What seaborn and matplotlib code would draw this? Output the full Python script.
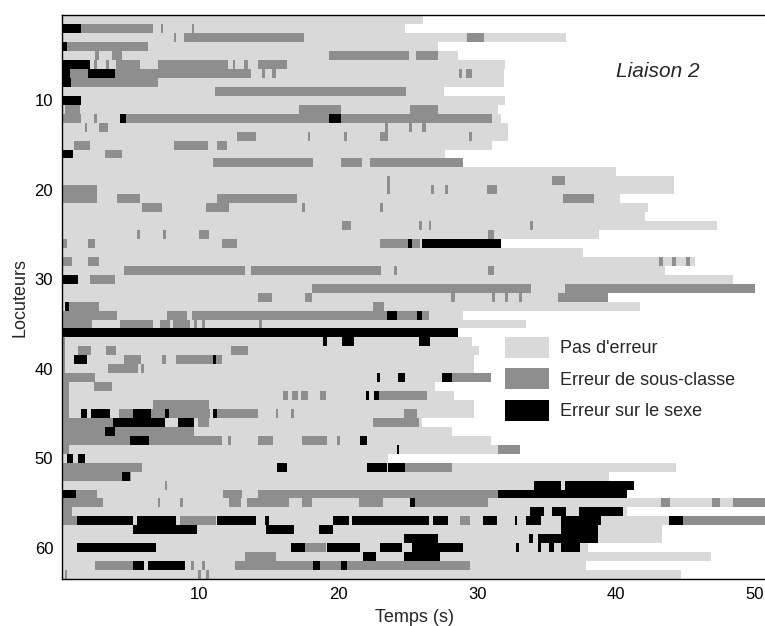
import numpy as np
import matplotlib
matplotlib.use("Agg")
import matplotlib.pyplot as plt
from matplotlib.colors import ListedColormap
from matplotlib.patches import Patch
import seaborn as sns

# ---------------------------------------------------------------------------
# Donnees : duree de chaque locuteur (s) et segments d'erreur (locuteur, debut, fin)
# ---------------------------------------------------------------------------

durees = [
    26.1, 24.8, 36.4, 27.2, 28.6, 32.0, 31.9, 31.9, 27.6, 32.0,
    31.5, 31.7, 32.2, 32.2, 31.1, 27.7, 29.0, 40.0, 44.2, 44.2,
    40.3, 42.3, 42.1, 47.3, 38.8, 31.75, 37.6, 45.7, 43.5, 48.4,
    50.0, 39.4, 41.7, 29.0, 33.5, 28.6, 29.6, 30.1, 29.8, 29.8,
    31.0, 27.0, 28.3, 29.8, 29.8, 26.0, 28.2, 31.0, 33.1, 23.6,
    44.3, 39.5, 41.3, 40.8, 50.7, 40.8, 50.7, 43.3, 43.3, 38.0,
    46.8, 37.8, 44.7,
]

sous_classe = [
    (2, 1.5, 6.7), (2, 7.25, 7.4), (2, 9.45, 9.6),
    (3, 8.2, 8.35), (3, 8.9, 17.5), (3, 29.3, 30.5),
    (4, 0.44, 6.3),
    (5, 2.5, 2.8), (5, 3.7, 4.4), (5, 19.3, 25.1), (5, 25.6, 27.2),
    (6, 2.4, 2.6), (6, 3.3, 3.5), (6, 4.0, 5.7), (6, 7.0, 12.1), (6, 12.4, 12.6),
    (6, 13.2, 13.5), (6, 14.2, 16.3),
    (7, 0.7, 2.0), (7, 3.9, 13.7), (7, 14.5, 14.7), (7, 15.2, 15.5),
    (7, 28.7, 28.9), (7, 29.2, 29.6),
    (8, 0.75, 7.0),
    (9, 11.1, 24.9),
    (11, 0.3, 1.4), (11, 17.2, 20.2), (11, 25.2, 27.2),
    (12, 0.1, 1.5), (12, 2.45, 2.6), (12, 4.7, 19.3), (12, 20.2, 31.1),
    (13, 1.75, 1.9), (13, 2.8, 3.4), (13, 23.4, 23.6), (13, 25.1, 25.3), (13, 26.0, 26.3),
    (14, 12.7, 14.1), (14, 17.8, 18.0), (14, 20.4, 20.6), (14, 23.0, 23.6), (14, 29.4, 29.6),
    (15, 1.0, 2.1), (15, 8.2, 10.6), (15, 11.3, 12.0),
    (16, 3.2, 4.4),
    (17, 11.0, 18.2), (17, 20.2, 21.7), (17, 22.3, 29.0),
    (19, 23.5, 23.7), (19, 35.4, 36.3),
    (20, 0.1, 2.6), (20, 23.5, 23.7), (20, 26.7, 26.9), (20, 27.7, 27.9), (20, 30.7, 31.4),
    (21, 0.1, 2.6), (21, 4.1, 5.7), (21, 11.3, 17.0), (21, 36.2, 38.4),
    (22, 5.9, 7.35), (22, 10.5, 12.15), (22, 17.4, 17.6), (22, 23.0, 23.2),
    (24, 20.3, 20.9), (24, 25.8, 26.0), (24, 26.5, 26.7), (24, 33.8, 34.0),
    (25, 5.5, 5.7), (25, 7.4, 7.6), (25, 10.0, 10.7), (25, 30.8, 31.2),
    (26, 0.2, 0.5), (26, 2.0, 2.5), (26, 11.6, 12.7), (26, 23.0, 25.9),
    (28, 0.2, 0.8), (28, 2.0, 2.8), (28, 43.1, 43.4), (28, 44.0, 44.3), (28, 45.0, 45.3),
    (29, 4.6, 13.3), (29, 13.7, 23.1), (29, 24.0, 24.2), (29, 30.8, 31.2),
    (30, 2.1, 3.9),
    (31, 18.1, 33.9), (31, 36.3, 50.0),
    (32, 14.2, 15.2), (32, 17.6, 18.1), (32, 28.1, 28.4), (32, 31.1, 31.3),
    (32, 32.0, 32.2), (32, 33.0, 33.2), (32, 35.8, 39.4),
    (33, 0.6, 2.8), (33, 22.5, 23.3),
    (34, 0.2, 4.1), (34, 7.7, 9.1), (34, 9.5, 23.5), (34, 24.2, 25.7), (34, 26.0, 26.5),
    (35, 0.2, 2.3), (35, 4.3, 6.7), (35, 7.2, 7.9), (35, 8.1, 9.3), (35, 9.6, 9.8),
    (35, 10.2, 10.4), (35, 14.3, 14.5),
    (37, 0.0, 0.3),
    (38, 0.0, 0.3), (38, 1.3, 2.2), (38, 3.3, 4.0), (38, 12.3, 13.5),
    (39, 0.0, 0.3), (39, 4.6, 5.8), (39, 7.3, 7.6), (39, 8.3, 11.6),
    (40, 0.0, 0.3), (40, 3.4, 5.6), (40, 5.8, 6.0),
    (41, 0.0, 2.5), (41, 28.2, 31.0),
    (42, 0.0, 0.6), (42, 2.4, 3.7),
    (43, 0.0, 0.6), (43, 16.0, 16.4), (43, 16.7, 17.1), (43, 17.3, 17.8),
    (43, 18.7, 19.1), (43, 22.9, 26.4),
    (44, 0.0, 0.6), (44, 6.7, 10.7),
    (45, 0.0, 0.6), (45, 4.2, 5.2), (45, 6.5, 7.5), (45, 7.85, 10.8), (45, 11.3, 14.2),
    (45, 15.5, 15.7), (45, 16.6, 16.8), (45, 24.7, 25.7),
    (46, 0.0, 3.8), (46, 9.9, 10.7), (46, 22.5, 25.8),
    (47, 0.0, 3.2), (47, 3.9, 9.6),
    (48, 0.0, 5.0), (48, 6.4, 11.6), (48, 12.1, 12.3), (48, 14.2, 15.3), (48, 17.4, 19.2),
    (48, 19.9, 20.1),
    (49, 0.0, 0.6), (49, 31.5, 33.1),
    (51, 0.0, 5.9), (51, 24.8, 28.2),
    (52, 0.0, 5.1),
    (53, 7.5, 7.7),
    (54, 1.16, 2.6), (54, 11.7, 13.1), (54, 14.2, 31.5),
    (55, 0.1, 3.1), (55, 7.0, 7.2), (55, 8.6, 8.8), (55, 12.15, 13.0), (55, 13.4, 16.45),
    (55, 17.4, 18.1), (55, 21.5, 23.2), (55, 25.5, 30.8), (55, 43.2, 43.9),
    (55, 46.9, 47.5), (55, 48.4, 50.7),
    (56, 0.1, 0.8),
    (57, 0.1, 1.2), (57, 8.6, 11.2), (57, 28.8, 29.5), (57, 44.8, 50.7),
    (60, 17.6, 19.1),
    (61, 13.3, 15.5),
    (62, 2.5, 5.2), (62, 9.4, 9.6), (62, 10.2, 10.4), (62, 12.6, 18.2), (62, 18.7, 20.2),
    (62, 20.6, 29.5),
    (63, 0.3, 0.5), (63, 9.9, 10.1), (63, 10.5, 10.7),
]

sexe = [
    (2, 0.0, 1.5), (4, 0.0, 0.44), (6, 0.0, 2.1),
    (7, 0.0, 0.7), (7, 2.0, 3.9), (8, 0.0, 0.75), (10, 0.0, 1.5),
    (12, 4.3, 4.7), (12, 19.3, 20.2), (16, 0.0, 0.9),
    (26, 25.0, 25.3), (26, 26.0, 31.75), (30, 0.2, 1.25), (33, 0.3, 0.6),
    (34, 23.5, 24.2), (34, 25.7, 26.0), (36, 0.0, 28.6),
    (37, 18.9, 19.2), (37, 20.3, 21.1), (37, 25.8, 26.6),
    (39, 1.0, 1.9), (39, 11.0, 11.2),
    (41, 22.8, 23.0), (41, 24.3, 24.8), (41, 27.5, 28.2),
    (43, 22.0, 22.2), (43, 22.6, 22.9),
    (45, 1.5, 1.9), (45, 2.2, 3.6), (45, 5.2, 6.5), (45, 7.5, 7.85), (45, 11.0, 11.3),
    (46, 3.8, 7.5), (46, 8.5, 9.6), (47, 3.2, 3.9),
    (48, 5.0, 6.4), (48, 21.6, 22.1), (49, 24.2, 24.4),
    (50, 0.45, 0.9), (50, 1.3, 1.8),
    (51, 15.6, 16.3), (51, 22.1, 23.5), (51, 23.6, 24.8),
    (52, 4.4, 5.0),
    (53, 34.1, 36.0), (53, 36.3, 41.3),
    (54, 0.0, 1.16), (54, 31.5, 40.8),
    (55, 25.2, 25.5),
    (56, 33.8, 34.8), (56, 35.4, 36.4), (56, 37.3, 40.5),
    (57, 1.2, 5.2), (57, 5.5, 8.3), (57, 11.3, 14.1), (57, 14.7, 15.0), (57, 19.6, 20.75),
    (57, 21.0, 26.5), (57, 26.8, 27.9), (57, 30.4, 31.4), (57, 32.7, 32.9),
    (57, 33.5, 34.6), (57, 36.0, 38.9), (57, 43.8, 44.8),
    (58, 5.2, 9.8), (58, 14.8, 16.8), (58, 18.6, 19.6), (58, 36.0, 38.7),
    (59, 24.7, 27.2), (59, 33.7, 34.0), (59, 34.4, 38.7),
    (60, 1.2, 6.9), (60, 16.6, 17.6), (60, 19.2, 21.6), (60, 23.0, 24.6), (60, 25.3, 29.0),
    (60, 32.8, 33.0), (60, 34.4, 34.6), (60, 35.2, 35.5), (60, 36.0, 37.4),
    (61, 21.8, 22.7), (61, 24.7, 27.3),
    (62, 5.2, 6.0), (62, 6.3, 9.0), (62, 18.2, 18.7), (62, 20.2, 20.6),
]

etiquettes = ["Pas d'erreur", "Erreur de sous-classe", "Erreur sur le sexe"]
couleurs = ["white", "#d9d9d9", "#8e8e8e", "black"]
x_ticks = [10, 20, 30, 40, 50]
y_ticks = [10, 20, 30, 40, 50, 60]

# ---------------------------------------------------------------------------
# Construction de la matrice (0 = hors signal, 1 = ok, 2 = sous-classe, 3 = sexe)
# ---------------------------------------------------------------------------

PAS = 0.05
n_col = int(round(51.0 / PAS))
t = (np.arange(n_col) + 0.5) * PAS

codes = np.zeros((len(durees), n_col))
for i, d in enumerate(durees):
    codes[i, t < d] = 1
for r, a, b in sous_classe:
    codes[r - 1, (t >= a) & (t < b)] = 2
for r, a, b in sexe:
    codes[r - 1, (t >= a) & (t < b)] = 3

# ---------------------------------------------------------------------------
# Figure
# ---------------------------------------------------------------------------

sns.set_style("white")
plt.rcParams["font.family"] = ["Liberation Sans", "DejaVu Sans"]

fig = plt.figure(figsize=(7.65, 6.26), dpi=100)
ax = fig.add_axes([61.5 / 765, 1 - 579 / 626, 1.002 - 61.5 / 765, (579 - 15.3) / 626])

sns.heatmap(
    codes,
    cmap=ListedColormap(couleurs),
    vmin=0,
    vmax=3,
    cbar=False,
    xticklabels=False,
    yticklabels=False,
    ax=ax,
)

ax.set_xlim(0.08 / PAS, 50.83 / PAS)
ax.set_xticks(np.array(x_ticks) / PAS)
ax.set_xticklabels([str(v) for v in x_ticks], fontsize=12)
ax.set_yticks(np.array(y_ticks) - 0.5)
ax.set_yticklabels([str(v) for v in y_ticks], fontsize=12, rotation=0)
ax.tick_params(direction="in", length=5, width=0.8, top=True, bottom=True,
               left=True, right=False, pad=6, colors="black")

for s in ax.spines.values():
    s.set_visible(True)
    s.set_color("black")
    s.set_linewidth(1.0)

ax.set_xlabel("Temps (s)", fontsize=13, labelpad=5)
ax.set_ylabel("Locuteurs", fontsize=13, labelpad=4)

ax.text(0.787, 0.901, "Liaison 2", transform=ax.transAxes, fontsize=15,
        style="italic", ha="left", va="center")

poignees = [Patch(facecolor=c, edgecolor="none") for c in couleurs[1:]]
ax.legend(
    poignees, etiquettes,
    loc="upper left",
    bbox_to_anchor=(505 / 765, 1 - 337 / 626),
    bbox_transform=fig.transFigure,
    frameon=False,
    fontsize=13,
    handlelength=2.45,
    handleheight=1.38,
    handletextpad=0.6,
    labelspacing=0.6,
    borderpad=0,
    borderaxespad=0,
)

fig.savefig("out.png", dpi=100)
